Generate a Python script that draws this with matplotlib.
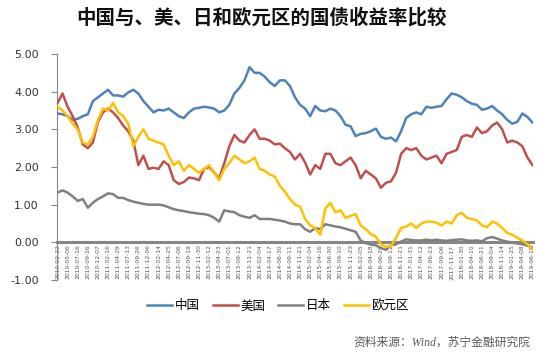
import matplotlib
matplotlib.use("Agg")
import matplotlib.pyplot as plt
import numpy as np

plt.rcParams['font.family'] = ['Noto Sans CJK SC', 'DejaVu Sans']

title = "中国与、美、日和欧元区的国债收益率比较"
series_names = ["中国", "美国", "日本", "欧元区"]
source = "资料来源：Wind，苏宁金融研究院"

tick_labels = ["2010-02-22", "2010-05-06", "2010-07-16", "2010-09-26", "2010-12-07",
               "2011-02-16", "2011-04-29", "2011-07-13", "2011-09-26", "2011-12-06",
               "2012-02-14", "2012-04-25", "2012-07-06", "2012-09-19", "2012-11-30",
               "2013-02-12", "2013-04-23", "2013-07-01", "2013-09-12", "2013-11-21",
               "2014-02-04", "2014-04-17", "2014-06-30", "2014-09-11", "2014-11-21",
               "2015-02-04", "2015-04-16", "2015-06-30", "2015-09-10", "2015-11-23",
               "2016-02-05", "2016-04-18", "2016-06-29", "2016-09-12", "2016-11-21",
               "2017-01-31", "2017-04-12", "2017-06-23", "2017-09-06", "2017-11-17",
               "2018-01-30", "2018-04-10", "2018-06-21", "2018-09-04", "2018-11-14",
               "2019-01-25", "2019-04-08", "2019-06-18"]

china = [3.42, 3.40, 3.35, 3.25, 3.28, 3.35, 3.40, 3.75, 3.85, 3.95,
         4.05, 3.90, 3.90, 3.87, 3.98, 4.05, 3.95, 3.75, 3.60, 3.45,
         3.52, 3.50, 3.55, 3.45, 3.35, 3.30, 3.45, 3.55, 3.57, 3.60,
         3.58, 3.55, 3.45, 3.50, 3.65, 3.95, 4.10, 4.30, 4.65, 4.50,
         4.50, 4.40, 4.25, 4.15, 4.30, 4.30, 4.15, 3.85,
         3.65, 3.55, 3.35, 3.62, 3.50, 3.48, 3.55, 3.50, 3.35, 3.12,
         3.08, 2.82, 2.88, 2.90, 2.95, 3.02, 2.80, 2.75, 2.78, 2.68,
         2.95, 3.30, 3.40, 3.45, 3.40, 3.60, 3.57, 3.60, 3.62, 3.80,
         3.95, 3.92, 3.85, 3.75, 3.68, 3.65, 3.52, 3.55, 3.62, 3.50,
         3.40, 3.25, 3.15, 3.20, 3.42, 3.33, 3.18]

usa = [3.70, 3.95, 3.60, 3.35, 3.05, 2.60, 2.50, 2.65, 3.20, 3.45,
       3.55, 3.45, 3.30, 3.10, 2.95, 2.70, 2.05, 2.30, 1.95, 1.98,
       1.95, 2.15, 2.05, 1.65, 1.55, 1.60, 1.72, 1.70, 1.65, 1.95,
       2.00, 1.85, 1.70, 2.10, 2.55, 2.85, 2.70, 2.65, 2.85, 3.00,
       2.75, 2.75, 2.70, 2.60, 2.62, 2.50, 2.40, 2.20,
       2.35, 2.12, 1.80, 2.05, 1.95, 2.35, 2.35, 2.10, 2.05, 2.15,
       2.25, 2.05, 1.70, 1.90, 1.80, 1.70, 1.45, 1.58, 1.62, 1.85,
       2.35, 2.50, 2.45, 2.50, 2.30, 2.20, 2.25, 2.30, 2.10, 2.35,
       2.40, 2.45, 2.80, 2.85, 2.80, 3.05, 2.90, 2.95, 3.10, 3.18,
       3.00, 2.65, 2.70, 2.65, 2.55, 2.25, 2.05]

japan = [1.32, 1.38, 1.32, 1.22, 1.10, 1.15, 0.92, 1.05, 1.15, 1.22,
         1.30, 1.28, 1.18, 1.18, 1.12, 1.08, 1.05, 1.02, 1.00, 1.00,
         1.00, 0.98, 0.93, 0.88, 0.85, 0.83, 0.80, 0.78, 0.76, 0.75,
         0.72, 0.65, 0.55, 0.85, 0.82, 0.80, 0.72, 0.68, 0.65, 0.72,
         0.62, 0.62, 0.62, 0.60, 0.58, 0.55, 0.50, 0.48,
         0.48, 0.35, 0.28, 0.38, 0.35, 0.48, 0.45, 0.42, 0.40, 0.36,
         0.32, 0.28, 0.05, -0.02, -0.06, -0.08, -0.15, -0.20, -0.08, -0.05,
         0.02, 0.08, 0.06, 0.05, 0.05, 0.07, 0.05, 0.07, 0.05, 0.04,
         0.06, 0.07, 0.08, 0.05, 0.04, 0.05, 0.03, 0.11, 0.14, 0.10,
         0.05, 0.02, -0.01, -0.03, -0.05, -0.09, -0.13]

euro = [3.60, 3.50, 3.35, 3.15, 3.00, 2.65, 2.60, 2.80, 3.25, 3.55,
        3.50, 3.70, 3.45, 3.35, 3.15, 2.55, 2.80, 3.00, 2.75, 2.70,
        2.65, 2.60, 2.30, 2.05, 2.15, 1.90, 2.05, 1.95, 1.85, 1.95,
        2.05, 1.85, 1.65, 1.95, 2.10, 2.30, 2.20, 2.10, 2.15, 2.25,
        1.95, 1.90, 1.80, 1.75, 1.50, 1.35, 1.15, 1.00,
        0.95, 0.62, 0.45, 0.38, 0.20, 0.90, 1.05, 0.80, 0.85, 0.65,
        0.70, 0.75, 0.45, 0.35, 0.22, 0.15, -0.05, -0.12, -0.10, 0.12,
        0.38, 0.42, 0.50, 0.38, 0.50, 0.55, 0.55, 0.52, 0.45, 0.55,
        0.50, 0.72, 0.78, 0.65, 0.62, 0.58, 0.45, 0.40, 0.55, 0.50,
        0.38, 0.25, 0.20, 0.12, 0.05, -0.05, -0.18]

colors = ["#4F81BD", "#C0504D", "#808080", "#FFC000"]

fig = plt.figure(figsize=(5.51, 3.57), dpi=100)
ax = fig.add_axes([57 / 551, 1 - 280 / 357, 476 / 551, 226 / 357])

# spine setup first (set_position resets ticks)
for s in ["top", "right"]:
    ax.spines[s].set_visible(False)
ax.spines["bottom"].set_position(("data", 0))
ax.spines["left"].set_color("#868686")
ax.spines["left"].set_linewidth(0.8)
ax.spines["bottom"].set_color("#868686")
ax.spines["bottom"].set_linewidth(2.2)

for vals, name, c in zip([china, usa, japan, euro], series_names, colors):
    ax.plot(np.arange(len(vals)), vals, color=c, lw=1.8, label=name, zorder=3,
            solid_joinstyle='round')

ax.set_xlim(-0.1, 94.1)
ax.set_ylim(-1, 5)
ax.set_yticks(np.arange(-1, 6, 1))
ax.set_yticklabels([f"{v:.2f}" for v in np.arange(-1, 6, 1)], fontsize=8,
                   color="#333333", family="DejaVu Sans")
ax.set_xticks(np.arange(0, 95, 2))
ax.set_xticklabels(tick_labels, fontsize=4.3, color="#555555", family="DejaVu Sans")
ax.tick_params(axis='x', length=0, pad=1.5, labelrotation=90)
ax.tick_params(axis='y', length=4, width=0.8, color="#868686", pad=9)

fig.text(262 / 551, 1 - 18 / 357, title, ha="center", va="center",
         fontsize=14, fontweight="bold", color="#111111")

handles, labels = ax.get_legend_handles_labels()
fig.legend(handles, labels, loc="center", bbox_to_anchor=(278 / 551, 1 - 306 / 357),
           ncol=4, frameon=False, fontsize=9, handlelength=2.0, handletextpad=0.2,
           columnspacing=1.05, borderaxespad=0)

fig.text(530 / 551, 1 - 343 / 357, source, ha="right", va="center", fontsize=8.5,
         style="italic", color="#595959", family=["Liberation Serif", "Noto Sans CJK SC"])

fig.savefig("out.png", dpi=100)
